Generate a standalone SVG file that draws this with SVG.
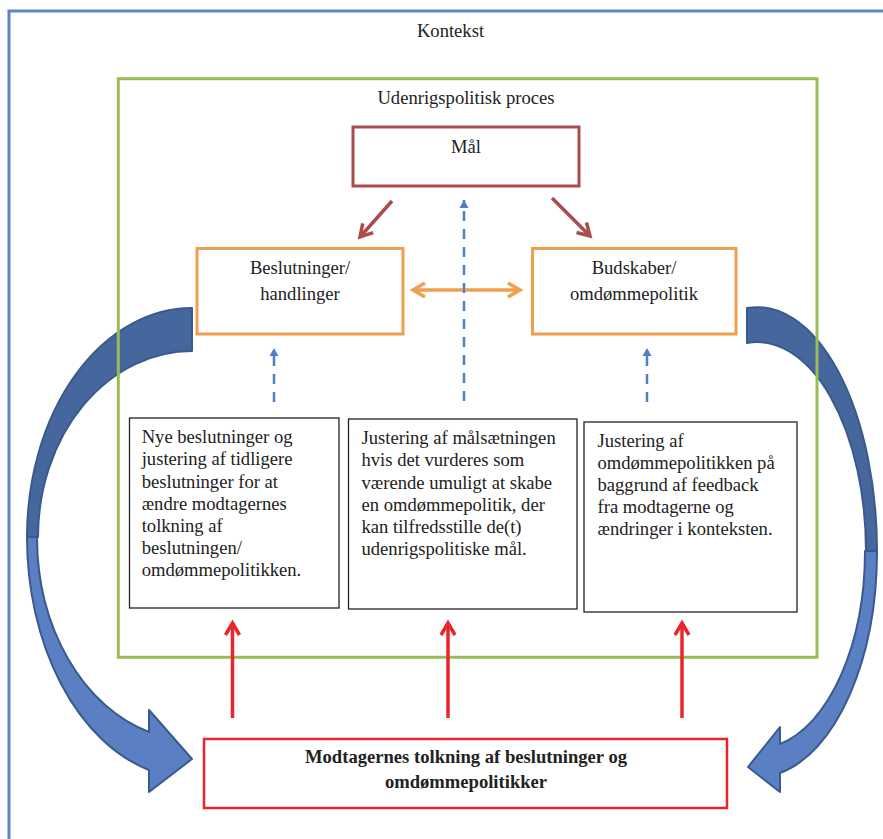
<svg xmlns="http://www.w3.org/2000/svg" width="883" height="839" viewBox="0 0 883 839">
<style>
text{font-family:"Liberation Serif","Times New Roman",serif;font-size:18.6px;fill:#222}
.c{text-anchor:middle}
.b{font-weight:bold}
.tb{fill:#fff;stroke:#222;stroke-width:1.3}
.back{fill:#46679e;stroke:#3a5a8c;stroke-width:2;stroke-linejoin:round}
.front{fill:#5b7fc3;stroke:#3a5a8c;stroke-width:2;stroke-linejoin:round}
.red{stroke:#e8262b;stroke-width:3.5;fill:none}
.mal{stroke:#a94d4c;stroke-width:3.5;fill:none}
.org{stroke:#eda04f;stroke-width:3.5;fill:none}
.dash{stroke:#4f7fc6;stroke-width:2.5;fill:none;stroke-dasharray:10 8}
</style>
<defs>
<marker id="mRed" markerUnits="userSpaceOnUse" viewBox="-16 -10 20 20" refX="0" refY="0" markerWidth="20" markerHeight="20" orient="auto"><path d="M-12,-7 L0,0 L-12,7" fill="none" stroke="#e8262b" stroke-width="3.5"/></marker>
<marker id="mMal" markerUnits="userSpaceOnUse" viewBox="-16 -10 20 20" refX="0" refY="0" markerWidth="20" markerHeight="20" orient="auto"><path d="M-12,-7 L0,0 L-12,7" fill="none" stroke="#a94d4c" stroke-width="3.5"/></marker>
<marker id="mOrg" markerUnits="userSpaceOnUse" viewBox="-16 -10 20 20" refX="0" refY="0" markerWidth="20" markerHeight="20" orient="auto-start-reverse"><path d="M-12,-7 L0,0 L-12,7" fill="none" stroke="#eda04f" stroke-width="3.5"/></marker>
<marker id="mBlue" markerUnits="userSpaceOnUse" viewBox="-10 -6 12 12" refX="0" refY="0" markerWidth="12" markerHeight="12" orient="auto"><path d="M-8,-4.5 L0,0 L-8,4.5 Z" fill="#4f7fc6"/></marker>
</defs>
<rect id="kontekst" x="9" y="11" width="900" height="900" fill="#fff" stroke="#5f84c8" stroke-width="3"/>
<text class="c" x="450.5" y="36.7">Kontekst</text>

<g id="feedback-left">
<path class="back" d="M192,308 A165,229 0 0 0 27,537 L38,537 A154,186 0 0 1 192,351 Z"/>
<path class="front" d="M27,537 A165,241 0 0 0 149,770 L149,792 L192,759 L149,710 L149,732 A155,203 0 0 1 37,537 Z"/>
</g>
<g id="feedback-right">
<path class="back" d="M747,308 A120,244 0 0 1 877,551 L866,551 A109,209 0 0 0 747,343 Z"/>
<path class="front" d="M877,551 A120,226 0 0 1 780,773 L780,792 L748,767 L780,727 L780,744 A108,197.5 0 0 0 865,551 Z"/>
</g>

<g id="proces">
<rect x="118.3" y="78.7" width="698.7" height="578.6" fill="none" stroke="#9bbb59" stroke-width="3"/>
<text class="c" x="466" y="104">Udenrigspolitisk proces</text>
</g>

<g id="maal">
<rect x="353" y="127" width="226" height="59" fill="#fff" stroke="#a94d4c" stroke-width="3"/>
<text class="c" x="466" y="153">Mål</text>
</g>

<g id="beslutninger">
<rect x="197" y="248.5" width="206" height="85.5" fill="#fff" stroke="#eda04f" stroke-width="3"/>
<text class="c" x="300" y="274">Beslutninger/</text>
<text class="c" x="300" y="300">handlinger</text>
</g>

<g id="budskaber">
<rect x="532.5" y="248.5" width="203.5" height="85.5" fill="#fff" stroke="#eda04f" stroke-width="3"/>
<text class="c" x="634" y="274">Budskaber/</text>
<text class="c" x="634" y="300">omdømmepolitik</text>
</g>

<g id="justering-beslutninger">
<rect class="tb" x="129.5" y="418" width="209.5" height="190"/>
<text x="141.7" y="443.3">Nye beslutninger og</text>
<text x="141.7" y="465.4">justering af tidligere</text>
<text x="141.7" y="487.5">beslutninger for at</text>
<text x="141.7" y="509.6">ændre modtagernes</text>
<text x="141.7" y="531.7">tolkning af</text>
<text x="141.7" y="553.8">beslutningen/</text>
<text x="141.7" y="575.9">omdømmepolitikken.</text>
</g>

<g id="justering-maal">
<rect class="tb" x="348.5" y="419" width="228.5" height="190"/>
<text x="361.5" y="444.3">Justering af målsætningen</text>
<text x="361.5" y="466.4">hvis det vurderes som</text>
<text x="361.5" y="488.5">værende umuligt at skabe</text>
<text x="361.5" y="510.6">en omdømmepolitik, der</text>
<text x="361.5" y="532.7">kan tilfredsstille de(t)</text>
<text x="361.5" y="554.8">udenrigspolitiske mål.</text>
</g>

<g id="justering-omdoemme">
<rect class="tb" x="584" y="422" width="213" height="190"/>
<text x="597.5" y="446.5">Justering af</text>
<text x="597.5" y="468.6">omdømmepolitikken på</text>
<text x="597.5" y="490.7">baggrund af feedback</text>
<text x="597.5" y="512.8">fra modtagerne og</text>
<text x="597.5" y="534.9">ændringer i konteksten.</text>
</g>

<g id="modtagere">
<rect x="204" y="739" width="523" height="69" fill="#fff" stroke="#e8262b" stroke-width="2.5"/>
<text class="c b" x="466" y="763">Modtagernes tolkning af beslutninger og</text>
<text class="c b" x="466" y="788">omdømmepolitikker</text>
</g>

<g id="connectors">
<line class="mal" x1="392" y1="201" x2="360" y2="237" marker-end="url(#mMal)"/>
<line class="mal" x1="552" y1="198" x2="590" y2="236" marker-end="url(#mMal)"/>
<line class="org" x1="413" y1="290" x2="520" y2="290" marker-start="url(#mOrg)" marker-end="url(#mOrg)"/>
<line class="dash" x1="464" y1="401" x2="464" y2="200" marker-end="url(#mBlue)"/>
<line class="dash" x1="274" y1="402" x2="274" y2="348" marker-end="url(#mBlue)"/>
<line class="dash" x1="647" y1="402" x2="647" y2="348" marker-end="url(#mBlue)"/>
<line class="red" x1="232.5" y1="718" x2="232.5" y2="623" marker-end="url(#mRed)"/>
<line class="red" x1="448" y1="718" x2="448" y2="623" marker-end="url(#mRed)"/>
<line class="red" x1="682" y1="718" x2="682" y2="623" marker-end="url(#mRed)"/>
</g>
</svg>
